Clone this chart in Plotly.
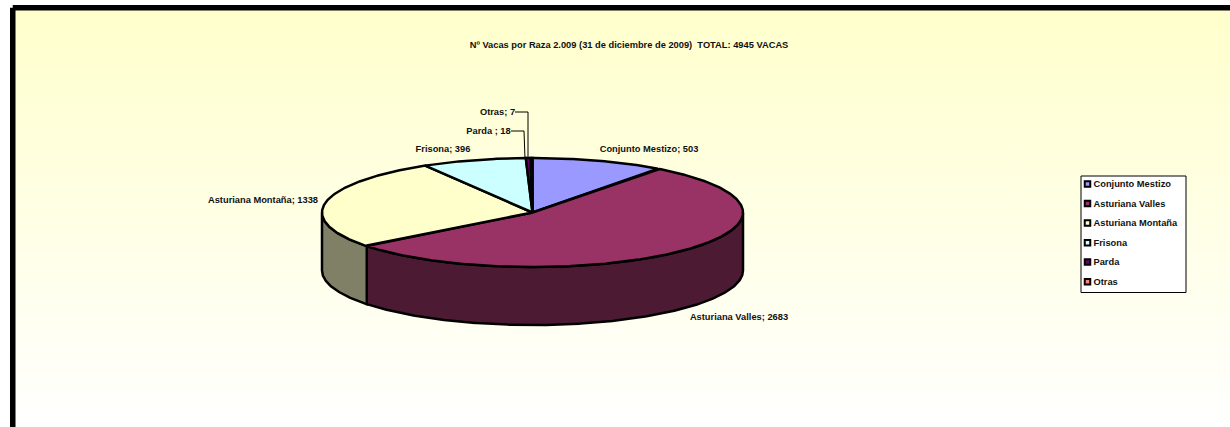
import math
import plotly.graph_objects as go

# ---- data ----
categories = ["Conjunto Mestizo", "Asturiana Valles", "Asturiana Montaña", "Frisona", "Parda ", "Otras"]
values = [503, 2683, 1338, 396, 18, 7]
colors = ["#9999FF", "#993366", "#FFFFCC", "#CCFFFF", "#660066", "#FF8080"]
side_colors = ["#4D4D80", "#4D1A33", "#808066", "#668080", "#330033", "#804040"]
title_text = "Nº Vacas por Raza 2.009 (31 de diciembre de 2009)  TOTAL: 4945 VACAS"

# ---- layout geometry (pixels) ----
W, H = 1230, 427
CX, CY, RX, RY, DEPTH = 532.5, 212.5, 210.5, 54.5, 58
FONT = dict(family="Liberation Sans, Arial, sans-serif", size=9.3, color="#111111", weight=700)
label_xy = [(649, 150), (739, 318), (263, 201), (443, 150), (488.5, 132), (497.5, 113)]
leaders = {4: [(511, 131), (524, 131), (525, 159)], 5: [(515, 112), (528, 112), (528, 159)]}


def pt(deg, dy=0.0):
    a = math.radians(deg)
    return CX + RX * math.sin(a), CY - RY * math.cos(a) + dy


def arc(a0, a1, dy=0.0):
    n = max(2, int(abs(a1 - a0) * 2))
    return [pt(a0 + (a1 - a0) * i / n, dy) for i in range(n + 1)]


total = sum(values)
angles = [0.0]
for v in values:
    angles.append(angles[-1] + 360.0 * v / total)

fig = go.Figure()


def poly(points, fill, lw=2.5, line="#000000", **kw):
    xs = [p[0] for p in points]
    ys = [p[1] for p in points]
    args = dict(x=xs, y=ys, mode="lines", line=dict(color=line, width=lw),
                fill="toself", hoverinfo="skip", showlegend=False)
    if fill is not None:
        args["fillcolor"] = fill
    args.update(kw)
    fig.add_trace(go.Scatter(**args))


# chart area with vertical gradient and heavy border
poly([(12.75, 7.75), (1245, 7.75), (1245, 445), (12.75, 445), (12.75, 7.75)], None, lw=5.5,
     fillgradient=dict(type="vertical", colorscale=[[0, "#FFFFCC"], [1, "#FFFFFF"]], start=10, stop=427))

# pie walls (front half only)
for i in range(len(values)):
    a0, a1 = max(angles[i], 90), min(angles[i + 1], 270)
    if a1 > a0:
        wall = arc(a0, a1) + arc(a1, a0, DEPTH)
        poly(wall + wall[:1], side_colors[i])

# pie top faces
for i in range(len(values)):
    face = [(CX, CY)] + arc(angles[i], angles[i + 1]) + [(CX, CY)]
    poly(face, colors[i])

# leader lines
for pts in leaders.values():
    fig.add_trace(go.Scatter(x=[p[0] for p in pts], y=[p[1] for p in pts], mode="lines",
                             line=dict(color="#000000", width=1), hoverinfo="skip", showlegend=False))

# data labels
fig.add_trace(go.Scatter(
    x=[p[0] for p in label_xy], y=[p[1] for p in label_xy], mode="text",
    text=[f"{c}; {v}" for c, v in zip(categories, values)],
    textposition="middle center", textfont=FONT, hoverinfo="skip", showlegend=False))

# title
fig.add_trace(go.Scatter(x=[629], y=[46], mode="text", text=[title_text], textposition="middle center",
                         textfont=FONT, hoverinfo="skip", showlegend=False))

# legend box
LX0, LX1, LY0, LY1 = 1081, 1186, 176, 292.5
poly([(LX0, LY0), (LX1, LY0), (LX1, LY1), (LX0, LY1), (LX0, LY0)], "#FFFFFF", lw=1)
legend_y = [184, 203.5, 223, 242.7, 262, 281.7]
legend_text_y = [y + 1 for y in legend_y]
fig.add_trace(go.Scatter(
    x=[1087.5] * len(categories), y=legend_y, mode="markers",
    marker=dict(symbol="square", size=5.5, color=colors, line=dict(color="#000000", width=2)),
    hoverinfo="skip", showlegend=False))
fig.add_trace(go.Scatter(
    x=[1093.5] * len(categories), y=legend_text_y, mode="text",
    text=[c.strip() for c in categories], textposition="middle right",
    textfont=FONT, hoverinfo="skip", showlegend=False))

fig.update_layout(
    width=W, height=H, margin=dict(l=0, r=0, t=0, b=0, pad=0),
    paper_bgcolor="#FFFFFF", plot_bgcolor="#FFFFFF", showlegend=False,
    xaxis=dict(range=[0, W], visible=False, fixedrange=True),
    yaxis=dict(range=[H, 0], visible=False, fixedrange=True),
)
fig.write_html("out.html", config=dict(displayModeBar=False),
               post_script="document.body.style.margin='0';document.body.style.overflow='hidden';")
